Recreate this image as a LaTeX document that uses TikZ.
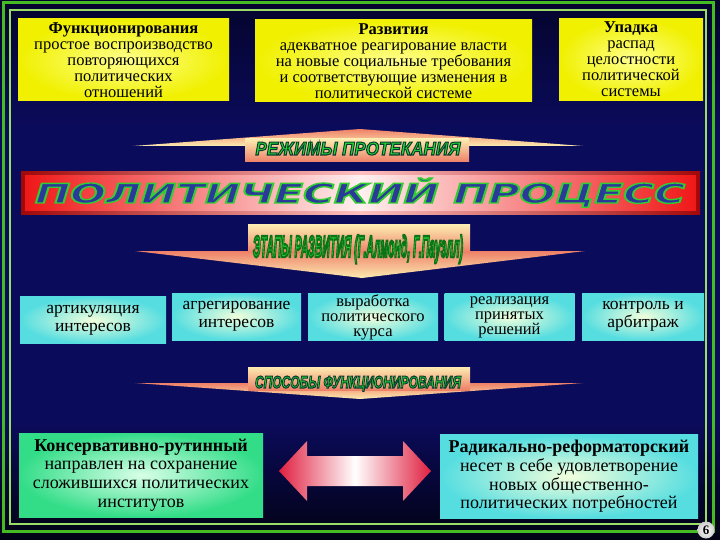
\documentclass[tikz,border=0pt]{standalone}
\usepackage{fontspec}
\setmainfont{Liberation Serif}
\newfontfamily\bandfont{Liberation Sans}
\newfontfamily\titlefont{DejaVu Sans}
\usepackage{graphicx}
\usetikzlibrary{positioning, shadings}

\definecolor{bgdark}{HTML}{020214}
\definecolor{bgtop}{HTML}{04042C}
\definecolor{bgmid}{HTML}{0B0B5C}
\definecolor{framegreen}{HTML}{44BB22}
\definecolor{framelight}{HTML}{99DD66}
\definecolor{yelin}{HTML}{FFFF8C}
\definecolor{yelout}{HTML}{F0F000}
\definecolor{cyin}{HTML}{F2FFDC}
\definecolor{cyout}{HTML}{55DDE0}
\definecolor{grin}{HTML}{D8FFE8}
\definecolor{grout}{HTML}{33DD88}
\definecolor{bandpale}{HTML}{FCEBB0}
\definecolor{bandsalmon}{HTML}{EE8068}
\definecolor{bannerred}{HTML}{F01818}
\definecolor{bannerdark}{HTML}{A00808}
\definecolor{bannerlight}{HTML}{FFF0F0}
\definecolor{titleblue}{HTML}{2B3A99}
\definecolor{labelgreen}{HTML}{22DD33}
\definecolor{arrowred}{HTML}{E02040}

\pgfdeclareverticalshading{bgshade}{100bp}{color(0bp)=(bgdark); color(25bp)=(bgdark); color(36bp)=(bgmid); color(63bp)=(bgmid); color(75bp)=(bgtop); color(100bp)=(bgtop)}

% outlined label: width, height, fill colour, stroke rgb, stroke width, text
\newcommand{\bandlabel}[6]{\textcolor{#3}{\special{pdf:literal direct 2 Tr #5 w #4 RG}\resizebox{#1}{#2}{#6}\special{pdf:literal direct 0 Tr}}}

\begin{document}
\begin{tikzpicture}[x=1pt, y=-1pt,
  topbox/.style={rectangle, inner color=yelin, outer color=yelout, minimum height=82pt, inner sep=1pt, align=center, font=\fontsize{16.5}{16}\selectfont},
  stagebox/.style={rectangle, inner color=cyin, outer color=cyout, minimum height=47pt, inner sep=1pt, align=center, font=\fontsize{17.5}{18}\selectfont},
  tightstage/.style={stagebox, font=\fontsize{16.5}{15}\selectfont},
  waybox/.style={rectangle, minimum height=84pt, inner sep=1pt, align=center, font=\fontsize{18}{18.6}\selectfont},
  bandrect/.style={top color=bandpale, bottom color=bandsalmon},
  bandwedge/.style={top color=bandsalmon, bottom color=bandpale}]

  % background and frame
  \useasboundingbox (0, 0) rectangle (720, 540);
  \shade[shading=bgshade] (0, 0) rectangle (720, 540);
  \draw[framegreen, line width=3pt] (3, 3) rectangle (713, 531);
  \draw[framelight, line width=2.5pt] (10, 10) rectangle (706, 524);

  % types of process
  \node[topbox, minimum width=211pt] (func) at (123.5, 60) {\textbf{Функционирования}\\простое воспроизводство\\повторяющихся\\политических\\отношений};
  \node[topbox, minimum width=277pt] (razv) at (393.5, 61) {\textbf{Развития}\\адекватное реагирование власти\\на новые социальные требования\\и соответствующие изменения в\\политической системе};
  \node[topbox, minimum width=144pt] (upad) at (631, 59.5) {\textbf{Упадка}\\распад\\целостности\\политической\\системы};

  % band: modes
  \shade[bandwedge] (133, 146) -- (360, 129) -- (583, 146) -- cycle;
  \shade[bandrect] (245, 139) rectangle (469, 162);
  \node[inner sep=0, anchor=base] (rezhimy) at (358, 155) {\bandlabel{205pt}{13pt}{labelgreen}{0.04 0.23 0.19}{0.9}{\fontsize{16}{16}\bandfont\bfseries\itshape РЕЖИМЫ ПРОТЕКАНИЯ}};

  % banner
  \shade[left color=bannerdark, right color=bannerdark, middle color=bannerlight!80!red] (21, 172) rectangle (700, 215);
  \shade[left color=bannerred, right color=bannerred, middle color=bannerlight] (25, 176) rectangle (696, 211);
  \node[inner sep=0, anchor=base] (process) at (360, 203) {\bandlabel{650pt}{25pt}{titleblue}{0.2 0.8 0.2}{1.3}{\fontsize{26}{26}\titlefont\bfseries\itshape ПОЛИТИЧЕСКИЙ ПРОЦЕСС}};

  % band: stages
  \shade[bandwedge] (135, 251) -- (585, 251) -- (362, 278) -- cycle;
  \shade[bandrect] (248, 225) rectangle (470, 252);
  \node[inner sep=0, anchor=base] (etapy) at (358, 257) {\bandlabel{210pt}{22pt}{labelgreen}{0.05 0.45 0.1}{1.6}{\fontsize{20}{20}\bandfont\bfseries\itshape ЭТАПЫ РАЗВИТИЯ (Г.Алмонд, Г.Пауэлл)}};

  % stages
  \node[stagebox, minimum width=146pt] (artik) at (93, 320) {артикуляция\\интересов};
  \node[stagebox, minimum width=129pt] (agreg) at (236.5, 316.5) {агрегирование\\интересов};
  \node[tightstage, minimum width=130pt] (vyrab) at (373, 317) {выработка\\политического\\курса};
  \node[tightstage, minimum width=130pt] (realiz) at (509.5, 317) {реализация\\принятых\\решений};
  \node[stagebox, minimum width=122pt] (kontr) at (643, 316.5) {контроль и\\арбитраж};

  % band: ways
  \shade[bandwedge] (135, 383) -- (583, 383) -- (360, 399) -- cycle;
  \shade[bandrect] (248, 367) rectangle (470, 390);
  \node[inner sep=0, anchor=base] (sposoby) at (358, 388) {\bandlabel{206pt}{12pt}{labelgreen}{0.04 0.23 0.19}{0.9}{\fontsize{14}{14}\bandfont\bfseries\itshape СПОСОБЫ ФУНКЦИОНИРОВАНИЯ}};

  % ways of functioning
  \node[waybox, inner color=grin, outer color=grout, minimum width=244pt] (konserv) at (141, 475) {\textbf{Консервативно-рутинный}\\направлен на сохранение\\сложившихся политических\\институтов};
  \node[waybox, inner color=cyin, outer color=cyout, minimum width=258pt] (radik) at (569, 476.5) {\textbf{Радикально-реформаторский}\\несет в себе удовлетворение\\новых общественно-\\политических потребностей};

  \shade[left color=arrowred, right color=arrowred, middle color=white]
    (279, 471) -- (307, 441) -- (307, 456) -- (403, 456) -- (403, 441) -- (431, 471)
    -- (403, 501) -- (403, 486) -- (307, 486) -- (307, 501) -- cycle;

  \node[circle, inner sep=0, minimum size=17pt, inner color=white, outer color=gray!40, font=\bfseries\fontsize{13}{13}\selectfont] (pagenum) at (706, 530) {6};
\end{tikzpicture}
\end{document}
